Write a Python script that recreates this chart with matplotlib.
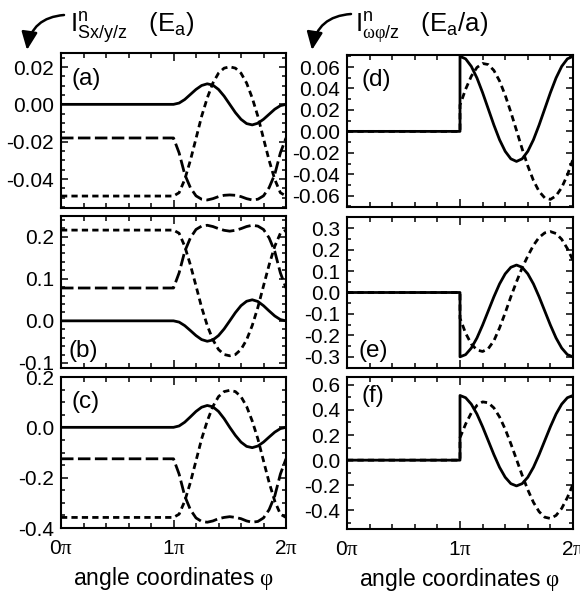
import matplotlib
matplotlib.use("Agg")
import matplotlib.pyplot as plt
from matplotlib.ticker import MultipleLocator, FixedLocator, FixedFormatter
from matplotlib.patches import FancyArrowPatch

plt.rcParams['font.family'] = ['Liberation Sans', 'DejaVu Sans']
plt.rcParams['mathtext.fontset'] = 'custom'
plt.rcParams['mathtext.rm'] = 'Liberation Sans'
plt.rcParams['mathtext.it'] = 'Liberation Sans:italic'
plt.rcParams['mathtext.sf'] = 'Liberation Serif'
plt.rcParams['lines.scale_dashes'] = False

# ---------------- data (phi in units of pi) ----------------
phi_left = [0.0, 1.0, 1.05, 1.1, 1.15, 1.2, 1.25, 1.3, 1.35, 1.4, 1.45, 1.5,
            1.55, 1.6, 1.65, 1.7, 1.75, 1.8, 1.85, 1.9, 1.95, 2.0]
a_solid = [0, 0, 0.0007, 0.0026, 0.0053, 0.0080, 0.0101, 0.0110, 0.0103, 0.0080, 0.0044, 0.0,
           -0.0044, -0.0080, -0.0103, -0.0110, -0.0101, -0.0080, -0.0053, -0.0026, -0.0007, 0.0]
a_long = [-0.018, -0.018, -0.026, -0.0375, -0.0446, -0.049, -0.0508, -0.0512, -0.0505, -0.0494, -0.0487,
          -0.0485, -0.0487, -0.0494, -0.0505, -0.0512, -0.0508, -0.049, -0.0446, -0.0375, -0.026, -0.018]
a_short = [-0.0491, -0.0491, -0.0473, -0.0402, -0.030, -0.0183, -0.0064, 0.0034, 0.0114, 0.0167, 0.0194,
           0.0201, 0.0194, 0.0167, 0.0114, 0.0034, -0.0064, -0.0183, -0.030, -0.0402, -0.0473, -0.0491]

b_solid = [0, 0, -0.003, -0.0114, -0.023, -0.035, -0.0445, -0.0485, -0.0454, -0.035, -0.0192, 0.0,
           0.0195, 0.036, 0.0465, 0.050, 0.046, 0.036, 0.0235, 0.0116, 0.003, 0.0]
b_long = [0.078, 0.078, 0.114, 0.165, 0.197, 0.217, 0.225, 0.227, 0.224, 0.219, 0.215, 0.213,
          0.215, 0.219, 0.224, 0.227, 0.225, 0.217, 0.197, 0.165, 0.114, 0.078]
b_short = [0.2155, 0.2155, 0.208, 0.177, 0.133, 0.083, 0.032, -0.011, -0.045, -0.068, -0.080, -0.083,
           -0.080, -0.068, -0.045, -0.011, 0.032, 0.083, 0.133, 0.177, 0.208, 0.2155]

c_solid = [0, 0, 0.0055, 0.0205, 0.0415, 0.0632, 0.0799, 0.0869, 0.0815, 0.0632, 0.0345, 0.0,
           -0.032, -0.0587, -0.0757, -0.0808, -0.0742, -0.0587, -0.0386, -0.0191, -0.0051, 0.0]
c_long = [-0.125, -0.125, -0.186, -0.273, -0.327, -0.360, -0.374, -0.377, -0.372, -0.363, -0.358, -0.355,
          -0.358, -0.363, -0.372, -0.377, -0.374, -0.360, -0.327, -0.273, -0.186, -0.125]
c_short = [-0.358, -0.358, -0.345, -0.293, -0.219, -0.133, -0.046, 0.025, 0.083, 0.122, 0.142, 0.147,
           0.142, 0.122, 0.083, 0.025, -0.046, -0.133, -0.219, -0.293, -0.345, -0.358]

phi_right = [0.0, 1.0, 1.0, 1.05, 1.1, 1.15, 1.2, 1.25, 1.3, 1.35, 1.4, 1.45, 1.5,
             1.55, 1.6, 1.65, 1.7, 1.75, 1.8, 1.85, 1.9, 1.95, 2.0]
d_solid = [0, 0, 0.070, 0.0676, 0.0606, 0.0498, 0.0361, 0.021, 0.0059, -0.0078, -0.0186, -0.0256, -0.028,
           -0.0256, -0.0186, -0.0078, 0.0059, 0.021, 0.0361, 0.0498, 0.0606, 0.0676, 0.070]
d_dash = [0, 0, 0.0245, 0.0394, 0.0514, 0.0596, 0.0633, 0.0623, 0.0568, 0.0470, 0.0337, 0.0179, 0.0009,
          -0.0163, -0.0322, -0.0458, -0.0560, -0.0620, -0.0634, -0.0601, -0.0524, -0.0407, -0.0261]
e_solid = [0, 0, -0.300, -0.2895, -0.259, -0.212, -0.152, -0.086, -0.020, 0.040, 0.087, 0.1175, 0.128,
           0.1175, 0.087, 0.040, -0.020, -0.086, -0.152, -0.212, -0.259, -0.2895, -0.300]
e_dash = [0, 0, -0.12, -0.19, -0.24, -0.268, -0.275, -0.262, -0.225, -0.165, -0.095, -0.02, 0.05,
          0.115, 0.17, 0.22, 0.257, 0.278, 0.284, 0.275, 0.248, 0.205, 0.15]
f_solid = [0, 0, 0.515, 0.497, 0.446, 0.367, 0.266, 0.155, 0.044, -0.057, -0.136, -0.187, -0.205,
           -0.187, -0.136, -0.057, 0.044, 0.155, 0.266, 0.367, 0.446, 0.497, 0.515]
f_dash = [0, 0, 0.179, 0.288, 0.376, 0.436, 0.464, 0.457, 0.416, 0.344, 0.247, 0.131, 0.006,
          -0.120, -0.236, -0.336, -0.410, -0.454, -0.464, -0.440, -0.384, -0.298, -0.192]

x_ticks = [0, 1, 2]
x_ticklabels = [r'0$\mathsf{\pi}$', r'1$\mathsf{\pi}$', r'2$\mathsf{\pi}$']
panel_labels = ['(a)', '(b)', '(c)', '(d)', '(e)', '(f)']

# ---------------- figure ----------------
W, H = 580, 593
fig = plt.figure(figsize=(W / 100, H / 100), dpi=100)

def px_axes(left, top, right, bottom):
    return fig.add_axes([left / W, 1 - bottom / H, (right - left) / W, (bottom - top) / H])

LW = 2.0
SHORT = (0, (4.5, 3.0))
LONG = (0, (9.0, 3.2))

specs = [
    dict(box=(61, 53, 286, 208), ylim=(-0.0555, 0.0275), major=0.02, minor=0.005, fmt='{:.2f}',
         curves=[(phi_left, a_solid, '-'), (phi_left, a_long, LONG), (phi_left, a_short, SHORT)],
         lab=(0.045, 0.905, 'top')),
    dict(box=(61, 216, 286, 368), ylim=(-0.112, 0.249), major=0.1, minor=0.02, fmt='{:.1f}',
         curves=[(phi_left, b_solid, '-'), (phi_left, b_long, LONG), (phi_left, b_short, SHORT)],
         lab=(0.035, 0.075, 'baseline')),
    dict(box=(61, 377, 286, 528), ylim=(-0.4, 0.2), major=0.2, minor=0.05, fmt='{:.1f}',
         curves=[(phi_left, c_solid, '-'), (phi_left, c_long, LONG), (phi_left, c_short, SHORT)],
         lab=(0.045, 0.91, 'top')),
    dict(box=(347, 55, 573, 207), ylim=(-0.0705, 0.0712), major=0.02, minor=0.01, fmt='{:.2f}',
         curves=[(phi_right, d_solid, '-'), (phi_right, d_dash, SHORT)],
         lab=(0.062, 0.91, 'top')),
    dict(box=(347, 217, 573, 368), ylim=(-0.352, 0.352), major=0.1, minor=0.05, fmt='{:.1f}',
         curves=[(phi_right, e_solid, '-'), (phi_right, e_dash, SHORT)],
         lab=(0.05, 0.075, 'baseline')),
    dict(box=(347, 377, 573, 529), ylim=(-0.548, 0.662), major=0.2, minor=0.1, fmt='{:.1f}',
         curves=[(phi_right, f_solid, '-'), (phi_right, f_dash, SHORT)],
         lab=(0.062, 0.945, 'top')),
]

for i, s in enumerate(specs):
    ax = px_axes(*s['box'])
    for xs, ys, ls in s['curves']:
        ax.plot(xs, ys, color='black', lw=LW, linestyle=ls, solid_capstyle='butt',
                dash_capstyle='butt')
    ax.set_xlim(0, 2)
    ax.set_ylim(*s['ylim'])
    ax.xaxis.set_major_locator(FixedLocator(x_ticks))
    ax.xaxis.set_minor_locator(MultipleLocator(0.2))
    ax.yaxis.set_major_locator(MultipleLocator(s['major']))
    ax.yaxis.set_minor_locator(MultipleLocator(s['minor']))
    fmt = s['fmt']
    ax.yaxis.set_major_formatter(matplotlib.ticker.FuncFormatter(
        lambda v, p, fmt=fmt: (fmt.format(v) if abs(v) > 1e-9 else fmt.format(0.0))))
    ax.tick_params(axis='both', which='both', direction='in', top=True, right=True,
                   width=1.1, labelsize=15)
    ax.tick_params(axis='x', which='major', length=6)
    ax.tick_params(axis='x', which='minor', length=3.5)
    ax.tick_params(axis='y', which='major', length=5, pad=5)
    ax.tick_params(axis='y', which='minor', length=3)
    if i in (2, 5):
        ax.xaxis.set_major_formatter(FixedFormatter(x_ticklabels))
        ax.tick_params(axis='x', which='major', pad=8)
        ax.set_xlabel(r'angle coordinates $\mathsf{\varphi}$', fontsize=16.5, labelpad=5)
    else:
        ax.tick_params(axis='x', labelbottom=False)
    for sp in ax.spines.values():
        sp.set_linewidth(1.5)
    lx, ly, va = s['lab']
    ax.text(lx, ly, panel_labels[i], transform=ax.transAxes, fontsize=17.5, va=va, ha='left')

# ---------------- titles with curved arrows ----------------
fig.text(70 / W, 1 - 33 / H, r'$\mathrm{I^{n}_{Sx/y/z}}$   (E$_\mathrm{a}$)', fontsize=18.5,
         ha='left', va='baseline')
fig.text(355 / W, 1 - 33 / H, r'$\mathrm{I^{n}_{\mathsf{\omega\varphi}/z}}$   (E$_\mathrm{a}$/a)',
         fontsize=18.5, ha='left', va='baseline')

for (x1, y1), (x2, y2) in [((64, 15), (27, 50)), ((351, 14), (312, 50))]:
    arr = FancyArrowPatch((x1 / W, 1 - y1 / H), (x2 / W, 1 - y2 / H),
                          transform=fig.transFigure, connectionstyle='arc3,rad=0.4',
                          arrowstyle='-|>,head_length=0.9,head_width=0.4', mutation_scale=12,
                          color='black', lw=1.8, shrinkA=0, shrinkB=0)
    fig.patches.append(arr)

fig.savefig('out.png', dpi=100)
